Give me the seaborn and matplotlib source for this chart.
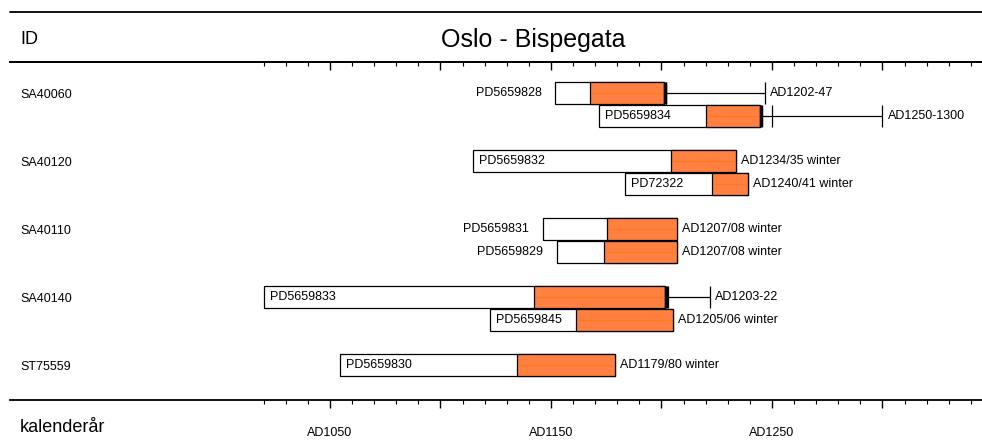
import seaborn as sns
import matplotlib.pyplot as plt
from matplotlib.lines import Line2D
from matplotlib.ticker import FixedLocator, FixedFormatter

# -------------------------------
# Data (years AD)
# -------------------------------
group_ids = ["SA40060", "SA40120", "SA40110", "SA40140", "ST75559"]
samples = ["PD5659828", "PD5659834", "PD5659832", "PD72322", "PD5659831",
           "PD5659829", "PD5659833", "PD5659845", "PD5659830"]
sample_group = [0, 0, 1, 1, 2, 2, 3, 3, 4]
sample_sub = [0, 1, 0, 1, 0, 1, 0, 1, 0]
first_ring = [1152, 1171.5, 1114.5, 1183.5, 1146.5, 1152.5, 1020, 1122.5, 1054.5]
sapwood_start = [1167.5, 1220, 1204.5, 1223, 1175.5, 1174, 1142.5, 1161.5, 1134.5]
last_ring = [1201, 1244.5, 1233.5, 1239, 1207, 1207, 1201.5, 1205, 1179]
felling_from = [1202, 1250, None, None, None, None, 1203, None, None]
felling_to = [1247, 1300, None, None, None, None, 1222, None, None]
dating = ["AD1202-47", "AD1250-1300", "AD1234/35 winter", "AD1240/41 winter",
          "AD1207/08 winter", "AD1207/08 winter", "AD1203-22",
          "AD1205/06 winter", "AD1179/80 winter"]
label_inside = [False, True, True, True, False, False, True, True, True]

major_years = [1050, 1100, 1150, 1200, 1250, 1300]
minor_years = [y for y in range(1020, 1341, 10) if y not in major_years]
tick_labels = ["AD1050", "", "AD1150", "", "AD1250", ""]

# -------------------------------
# Style
# -------------------------------
sns.set_theme(style="white")
plt.rcParams["font.family"] = ["Liberation Sans", "DejaVu Sans"]
plt.rcParams["text.color"] = "black"
plt.rcParams["xtick.color"] = "black"
plt.rcParams["xtick.labelcolor"] = "black"

W, H = 982, 441
fig = plt.figure(figsize=(W / 100, H / 100), dpi=100)
# axes spans between the two ruled lines (pixel rows 62 and 400)
ax = fig.add_axes([10 / W, (H - 400) / H, 972 / W, (400 - 62) / H])
ax.set_xlim(1050 - 320 / 2.21, 1050 + 652 / 2.21)
ax.set_ylim(400, 62)

orange = "#ff8040"
bar_h = 21.5

def row_y(i):
    return 93 + 68 * sample_group[i] + 23 * sample_sub[i]

for i, name in enumerate(samples):
    y = row_y(i)
    ax.barh(y, last_ring[i] - first_ring[i], left=first_ring[i], height=bar_h,
            color="white", edgecolor="black", linewidth=0.9, zorder=2)
    ax.barh(y, last_ring[i] - sapwood_start[i], left=sapwood_start[i], height=bar_h,
            color=orange, edgecolor="black", linewidth=0.9, zorder=3)
    ax.hlines(y, sapwood_start[i] + 0.5, last_ring[i] - 0.5, color="#ff7a14",
              linewidth=0.8, zorder=4)

    if label_inside[i]:
        ax.annotate(name, xy=(first_ring[i], y), xytext=(6, 0), textcoords="offset pixels",
                    ha="left", va="center", fontsize=9, zorder=5)
    else:
        ax.annotate(name, xy=(first_ring[i], y), xytext=(-14, 0), textcoords="offset pixels",
                    ha="right", va="center", fontsize=9, zorder=5)

    end_x = last_ring[i]
    if felling_from[i] is not None:
        ax.vlines(last_ring[i] + 0.6, y - bar_h / 2, y + bar_h / 2, color="black",
                  linewidth=2.5, zorder=5)
        ax.hlines(y, last_ring[i] + 0.6, felling_to[i], color="black", linewidth=0.9)
        ax.vlines([felling_from[i], felling_to[i]], y - bar_h / 2, y + bar_h / 2,
                  color="black", linewidth=0.9)
        end_x = felling_to[i]
    ax.annotate(dating[i], xy=(end_x, y), xytext=(5, 0), textcoords="offset pixels",
                ha="left", va="center", fontsize=9)

for g, gid in enumerate(group_ids):
    ax.annotate(gid, xy=(20, 95 + 68 * g), xycoords=("figure pixels", "data"),
                ha="left", va="center", fontsize=9)

# -------------------------------
# Axes / ticks
# -------------------------------
ax.set_yticks([])
ax.spines["left"].set_visible(False)
ax.spines["right"].set_visible(False)
for s in ["top", "bottom"]:
    ax.spines[s].set_linewidth(1.3)
    ax.spines[s].set_color("black")

ax.xaxis.set_major_locator(FixedLocator(major_years))
ax.xaxis.set_major_formatter(FixedFormatter(tick_labels))
ax.xaxis.set_minor_locator(FixedLocator(minor_years))
ax.tick_params(axis="x", which="major", direction="out", length=5.5, width=1,
               color="black", labelcolor="black", pad=14, labelsize=9, bottom=True)
ax.tick_params(axis="x", which="minor", direction="out", length=3.2, width=0.8,
               color="black", bottom=True)

sec = ax.secondary_xaxis("top")
sec.xaxis.set_major_locator(FixedLocator(major_years))
sec.xaxis.set_minor_locator(FixedLocator(minor_years))
sec.tick_params(axis="x", which="major", direction="in", length=5.5, width=1,
                color="black", labeltop=False)
sec.tick_params(axis="x", which="minor", direction="in", length=3.2, width=0.8,
                color="black")
sec.spines["top"].set_linewidth(1.3)
sec.spines["top"].set_color("black")

# -------------------------------
# Header / footer text
# -------------------------------
fig.add_artist(Line2D([10 / W, 1], [1 - 12 / H] * 2, transform=fig.transFigure,
                      color="black", linewidth=1.3))
fig.text(533 / W, 1 - 40 / H, "Oslo - Bispegata", ha="center", va="center", fontsize=18)
fig.text(20 / W, 1 - 40 / H, "ID", ha="left", va="center", fontsize=13)
fig.text(20 / W, 1 - 427 / H, "kalenderår", ha="left", va="center", fontsize=13)

plt.savefig("out.png", dpi=100)
